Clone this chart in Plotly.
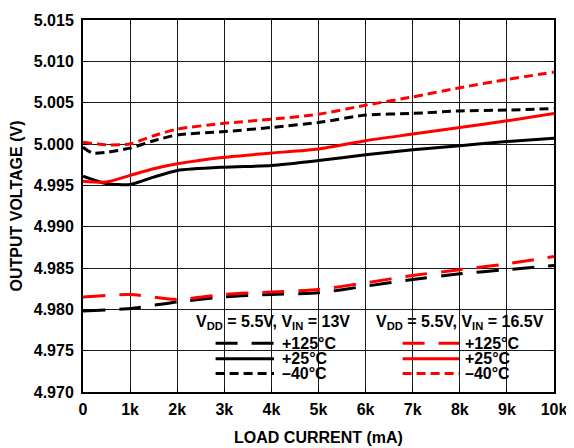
import plotly.graph_objects as go

# ---- data (load current in mA, output voltage in V) ----
x_125_13 = [0, 1000, 2000, 3000, 4000, 5000, 6000, 7000, 8000, 9000, 10000]
y_125_13 = [4.9798, 4.9801, 4.9809, 4.9815, 4.9818, 4.9820, 4.9828, 4.9836, 4.9843, 4.9848, 4.9853]

x_25_13 = [0, 250, 500, 1000, 1500, 2000, 3000, 4000, 5000, 6000, 7000, 8000, 9000, 10000]
y_25_13 = [4.9961, 4.9956, 4.9952, 4.9951, 4.9960, 4.9968, 4.9972, 4.9974, 4.9980, 4.9987, 4.9993, 4.9998, 5.0003, 5.0007]

x_m40_13 = [0, 200, 500, 1000, 1500, 2000, 3000, 4000, 5000, 6000, 7000, 8000, 9000, 10000]
y_m40_13 = [4.9996, 4.9989, 4.9990, 4.9995, 5.0004, 5.0011, 5.0015, 5.0020, 5.0026, 5.0035, 5.0037, 5.0040, 5.0041, 5.0043]

x_125_165 = [0, 1000, 2000, 3000, 4000, 5000, 6000, 7000, 8000, 9000, 10000]
y_125_165 = [4.9815, 4.9818, 4.9812, 4.9818, 4.9821, 4.9824, 4.9832, 4.9841, 4.9848, 4.9855, 4.9864]

x_25_165 = [0, 500, 1000, 1500, 2000, 3000, 4000, 5000, 6000, 7000, 8000, 9000, 10000]
y_25_165 = [4.9955, 4.9954, 4.9962, 4.9970, 4.9976, 4.9984, 4.9989, 4.9994, 5.0004, 5.0012, 5.0020, 5.0028, 5.0037]

x_m40_165 = [0, 500, 1000, 1500, 2000, 3000, 4000, 5000, 6000, 7000, 8000, 9000, 10000]
y_m40_165 = [5.0002, 4.9999, 5.0000, 5.0010, 5.0018, 5.0025, 5.0030, 5.0036, 5.0047, 5.0057, 5.0068, 5.0078, 5.0087]

x_tickvals = [0, 1000, 2000, 3000, 4000, 5000, 6000, 7000, 8000, 9000, 10000]
x_ticktext = ["0", "1k", "2k", "3k", "4k", "5k", "6k", "7k", "8k", "9k", "10k"]
y_tickvals = [4.970, 4.975, 4.980, 4.985, 4.990, 4.995, 5.000, 5.005, 5.010, 5.015]

header_13 = "V<sub>DD</sub> = 5.5V, V<sub>IN</sub> = 13V"
header_165 = "V<sub>DD</sub> = 5.5V, V<sub>IN</sub> = 16.5V"
temp_labels = ["+125°C", "+25°C", "–40°C"]

LONG = "22px,14px"
SHORT = "9px,5px"
RED = "#ff0000"
BLK = "#000000"
LW = 3

series = [
    (x_125_13, y_125_13, BLK, LONG),
    (x_25_13, y_25_13, BLK, "solid"),
    (x_m40_13, y_m40_13, BLK, SHORT),
    (x_125_165, y_125_165, RED, LONG),
    (x_25_165, y_25_165, RED, "solid"),
    (x_m40_165, y_m40_165, RED, SHORT),
]

fig = go.Figure()
for xs, ys, col, dash in series:
    fig.add_trace(go.Scatter(x=xs, y=ys, mode="lines",
                             line=dict(color=col, width=LW, dash=dash, shape="spline", smoothing=0.6),
                             showlegend=False, hoverinfo="skip"))

# page body has an 8px margin: figure sits at (8, 8) in the window
OFF = 8
W, H = 574 - OFF, 448 - OFF
PL, PR, PT, PB = 78, 554, 12, 393          # plot area in window pixels
L, T = PL - OFF, PT - OFF
R, B = W - (PR - OFF), H - (PB - OFF)
PW, PH = PR - PL, PB - PT

def px(xp):
    return (xp - PL) / PW

def py(yp):
    return (PB - yp) / PH

FONT = "Liberation Sans, Arial, sans-serif"
FS = 16

shapes = [
    dict(type="rect", xref="paper", yref="paper", x0=px(187), x1=1, y0=0, y1=py(305),
         fillcolor="white", line=dict(width=0), layer="between"),
]
rows_y = [343, 359, 374]
dashes = [LONG, "solid", SHORT]
for i in range(3):
    shapes.append(dict(type="line", xref="paper", yref="paper", x0=px(212), x1=px(271),
                       y0=py(rows_y[i]), y1=py(rows_y[i]), line=dict(color=BLK, width=LW, dash=dashes[i])))
    shapes.append(dict(type="line", xref="paper", yref="paper", x0=px(401), x1=px(458),
                       y0=py(rows_y[i]), y1=py(rows_y[i]), line=dict(color=RED, width=LW, dash=dashes[i])))

annotations = [
    dict(text="<b>" + header_13 + "</b>", xref="paper", yref="paper", x=px(270), y=py(322),
         xanchor="center", yanchor="middle", showarrow=False, font=dict(size=FS, color="black", family=FONT)),
    dict(text="<b>" + header_165 + "</b>", xref="paper", yref="paper", x=px(459), y=py(322),
         xanchor="center", yanchor="middle", showarrow=False, font=dict(size=FS, color="black", family=FONT)),
]
for i in range(3):
    annotations.append(dict(text="<b>" + temp_labels[i] + "</b>", xref="paper", yref="paper",
                            x=px(277), y=py(rows_y[i]), xanchor="left", yanchor="middle", showarrow=False,
                            font=dict(size=FS, color="black", family=FONT)))
    annotations.append(dict(text="<b>" + temp_labels[i] + "</b>", xref="paper", yref="paper",
                            x=px(462), y=py(rows_y[i]), xanchor="left", yanchor="middle", showarrow=False,
                            font=dict(size=FS, color="black", family=FONT)))

axis_common = dict(showline=True, linecolor="black", linewidth=2, mirror="ticks",
                   showgrid=True, gridcolor="#1a1a1a", gridwidth=1.3,
                   ticks="inside", ticklen=4, tickcolor="black", tickwidth=1.3,
                   ticklabeloverflow="allow",
                   zeroline=False, tickfont=dict(size=FS, color="black", family=FONT))

fig.update_layout(
    width=W, height=H,
    margin=dict(l=L, r=R, t=T, b=B, pad=0),
    paper_bgcolor="white", plot_bgcolor="white",
    xaxis=dict(range=[0, 10000], tickvals=x_tickvals, ticktext=["<b>%s</b>" % t for t in x_ticktext],
               ticklabelstandoff=2,
               title=dict(text="<b>LOAD CURRENT (mA)</b>", font=dict(size=FS, color="black", family=FONT), standoff=15),
               **axis_common),
    yaxis=dict(range=[4.970, 5.015], tickvals=y_tickvals, ticktext=["<b>%.3f</b>" % v for v in y_tickvals],
               ticklabelstandoff=4,
               title=dict(text="<b>OUTPUT VOLTAGE (V)</b>", font=dict(size=FS, color="black", family=FONT), standoff=11),
               **axis_common),
    shapes=shapes,
    annotations=annotations,
)

fig.write_html("out.html")
